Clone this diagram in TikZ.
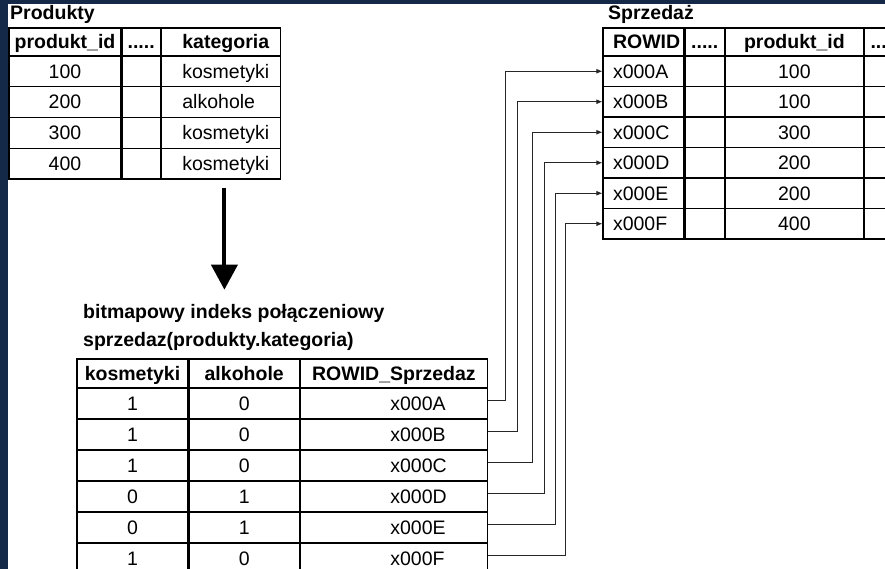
\documentclass[tikz,border=0pt]{standalone}
\usepackage{fontspec}
\setmainfont{Liberation Sans}
\usetikzlibrary{positioning}
\usetikzlibrary{arrows.meta}
\definecolor{navy}{RGB}{19,41,71}
\tikzstyle{cell} = [draw=black, line width=1.2pt, inner sep=0pt,
text height=13.7pt, text depth=0pt, % same baseline in every cell
font=\fontsize{19.5pt}{22pt}\selectfont]
\tikzstyle{head} = [cell, font=\fontsize{19.5pt}{22pt}\selectfont\bfseries]
\tikzstyle{title} = [anchor=base west, inner sep=0pt,
font=\fontsize{19.5pt}{22pt}\selectfont\bfseries]
\tikzstyle{link} = [line width=0.9pt, draw=black!85, -{Latex[length=6pt,width=5pt]}]
\tikzstyle{bigarrow} = [line width=4pt, -{Triangle[length=25pt,width=26pt]}]
\tikzset{lcell/.style 2 args={text width=#1, align=left,
  execute at begin node={\hspace*{#2pt}}}}

\begin{document}
\begin{tikzpicture}[x=1pt, y=-1pt] % one unit = one pixel, y going down
\useasboundingbox (0,0) rectangle (885,569);
\clip (0,0) rectangle (885,569);
\fill[navy] (0,0) rectangle (885,569);
\fill[white] (8,4) rectangle (885,569);

% Produkty table
\node[title] (prodtitle) at (10,20) {Produkty};
\node[head, minimum width=112, minimum height=28] (prod-0-1) at (65,42) {produkt\_id};
\node[head, minimum width=38, minimum height=28, right=0pt of prod-0-1] (prod-0-2) {.....};
\node[head, minimum height=28, lcell={119}{21}, right=0pt of prod-0-2] (prod-0-3) {kategoria};
\foreach \id/\kat [count=\r] in {100/kosmetyki, 200/alkohole, 300/kosmetyki, 400/kosmetyki} {
  \node[cell, minimum width=112, minimum height=30.75] (prod-\r-1) at (65,{40.625+30.75*\r}) {\id};
  \node[cell, minimum width=38, minimum height=30.75, right=0pt of prod-\r-1] (prod-\r-2) {};
  \node[cell, minimum height=30.75, lcell={119}{21}, right=0pt of prod-\r-2] (prod-\r-3) {\kat};
}

% Sprzedaz table, cut by the right edge
\node[title] (sptitle) at (608,20) {Sprzedaż};
\node[head, minimum height=28, lcell={81}{10}] (sp-0-1) at (643.5,42) {ROWID};
\node[head, minimum width=39, minimum height=28, right=0pt of sp-0-1] (sp-0-2) {.....};
\node[head, minimum width=138, minimum height=28, right=0pt of sp-0-2] (sp-0-3) {produkt\_id};
\node[head, minimum width=39, minimum height=28, right=0pt of sp-0-3] (sp-0-4) {.....};
\foreach \rid/\pid [count=\r] in {x000A/100, x000B/100, x000C/300, x000D/200, x000E/200, x000F/400} {
  \node[cell, minimum height=30.5, lcell={81}{10}] (sp-\r-1) at (643.5,{40.75+30.5*\r}) {\rid};
  \node[cell, minimum width=39, minimum height=30.5, right=0pt of sp-\r-1] (sp-\r-2) {};
  \node[cell, minimum width=138, minimum height=30.5, right=0pt of sp-\r-2] (sp-\r-3) {\pid};
  \node[cell, minimum width=39, minimum height=30.5, right=0pt of sp-\r-3] (sp-\r-4) {};
}

% bitmap join index
\node[title] (bmtitle1) at (83,318) {bitmapowy indeks połączeniowy};
\node[title] (bmtitle2) at (83,346) {sprzedaz(produkty.kategoria)};
\node[head, minimum width=111, minimum height=29] (bm-0-1) at (132.5,373.5) {kosmetyki};
\node[head, minimum width=110, minimum height=29, right=0pt of bm-0-1] (bm-0-2) {alkohole};
\node[head, minimum width=187, minimum height=29, right=0pt of bm-0-2] (bm-0-3) {ROWID\_Sprzedaz};
\foreach \k/\a/\rid [count=\r] in {1/0/x000A, 1/0/x000B, 1/0/x000C, 0/1/x000D, 0/1/x000E, 1/0/x000F} {
  \node[cell, minimum width=111, minimum height=31] (bm-\r-1) at (132.5,{372.5+31*\r}) {\k};
  \node[cell, minimum width=110, minimum height=31, right=0pt of bm-\r-1] (bm-\r-2) {\a};
  \node[cell, minimum height=31, lcell={187}{90}, right=0pt of bm-\r-2] (bm-\r-3) {\rid};
}

% arrow from Produkty down to the index
\draw[bigarrow, shorten <=8pt, shorten >=14pt] ([xshift=3.5pt]prod-4-3.south)
  -- ([xshift=3.5pt]prod-4-3.south |- bmtitle1.north);

% index rows point to the rows of Sprzedaz
\foreach \r/\dx in {1/17, 2/29, 3/44, 4/56, 5/67, 6/77}
  \draw[link] ([yshift=3pt]bm-\r-3.east) -- ++(\dx,0) |- (sp-\r-1.west);
\end{tikzpicture}
\end{document}
